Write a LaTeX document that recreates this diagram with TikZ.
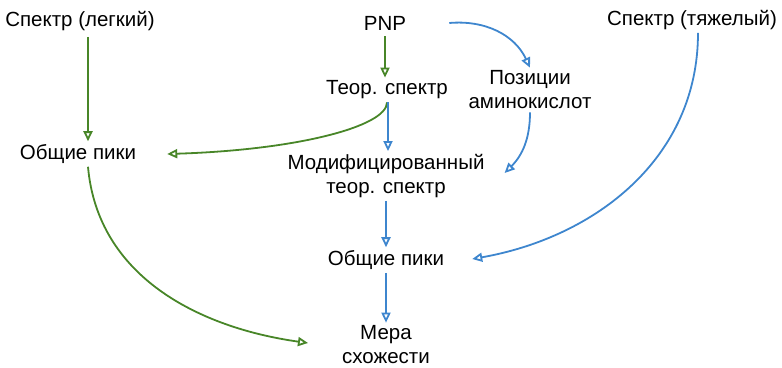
\documentclass[tikz,border=0pt]{standalone}
\usepackage{fontspec}
\setmainfont{Liberation Sans}
\usetikzlibrary{arrows.meta}
\definecolor{peakGreen}{RGB}{72,134,40}
\definecolor{peakBlue}{RGB}{62,134,206}

\begin{document}
\begin{tikzpicture}[x=1pt, y=-1pt, font=\fontsize{20.5}{24}\selectfont,
    lbl/.style={align=center, inner sep=3pt},
    garrow/.style={-{Triangle[open, length=10pt, width=9pt]}, line width=1.8pt, peakGreen},
    barrow/.style={-{Triangle[open, length=10pt, width=9pt]}, line width=1.8pt, peakBlue}]
    \useasboundingbox (0,0) rectangle (782,367);
    % nodes
    \node[lbl] (light) at (80,21) {Спектр (легкий)};
    \node[lbl] (pnp) at (385,23) {PNP};
    \node[lbl] (heavy) at (692,20) {Спектр (тяжелый)};
    \node[lbl] (theor) at (387,90) {Теор. спектр};
    \node[lbl] (pos) at (530,90) {Позиции\\аминокислот};
    \node[lbl] (peaksL) at (78,154) {Общие пики};
    \node[lbl] (modif) at (386,176) {Модифицированный\\теор. спектр};
    \node[lbl] (peaksC) at (386,260) {Общие пики};
    \node[lbl] (measure) at (386,345) {Мера\\схожести};
    % green
    \draw[garrow, shorten <=3pt] (light.south -| 88,0) -- (peaksL.north -| 88,0);
    \draw[garrow, shorten <=3pt] (pnp.south) -- (pnp.south |- theor.north);
    \draw[garrow] (theor.south) .. controls +(0,24) and +(130,-4) .. ([xshift=28pt]peaksL.east);
    \draw[garrow] (peaksL.south -| 88,0) to[out=-85, in=172] ([xshift=-31pt,yshift=2pt]measure.west);
    % blue
    \draw[barrow] ([xshift=1pt]theor.south) -- ([xshift=1pt]theor.south |- modif.north);
    \draw[barrow] ([xshift=40pt]pnp.east) to[out=5, in=115] (pos.north);
    \draw[barrow] (pos.south) to[out=-90, in=45] ([xshift=17pt,yshift=3pt]modif.east);
    \draw[barrow] (heavy.south -| 698,0) to[out=-90, in=10] ([xshift=25pt,yshift=1pt]peaksC.east);
    \draw[barrow] (modif.south) -- (peaksC.north);
    \draw[barrow] (peaksC.south) -- (measure.north);
\end{tikzpicture}
\end{document}
